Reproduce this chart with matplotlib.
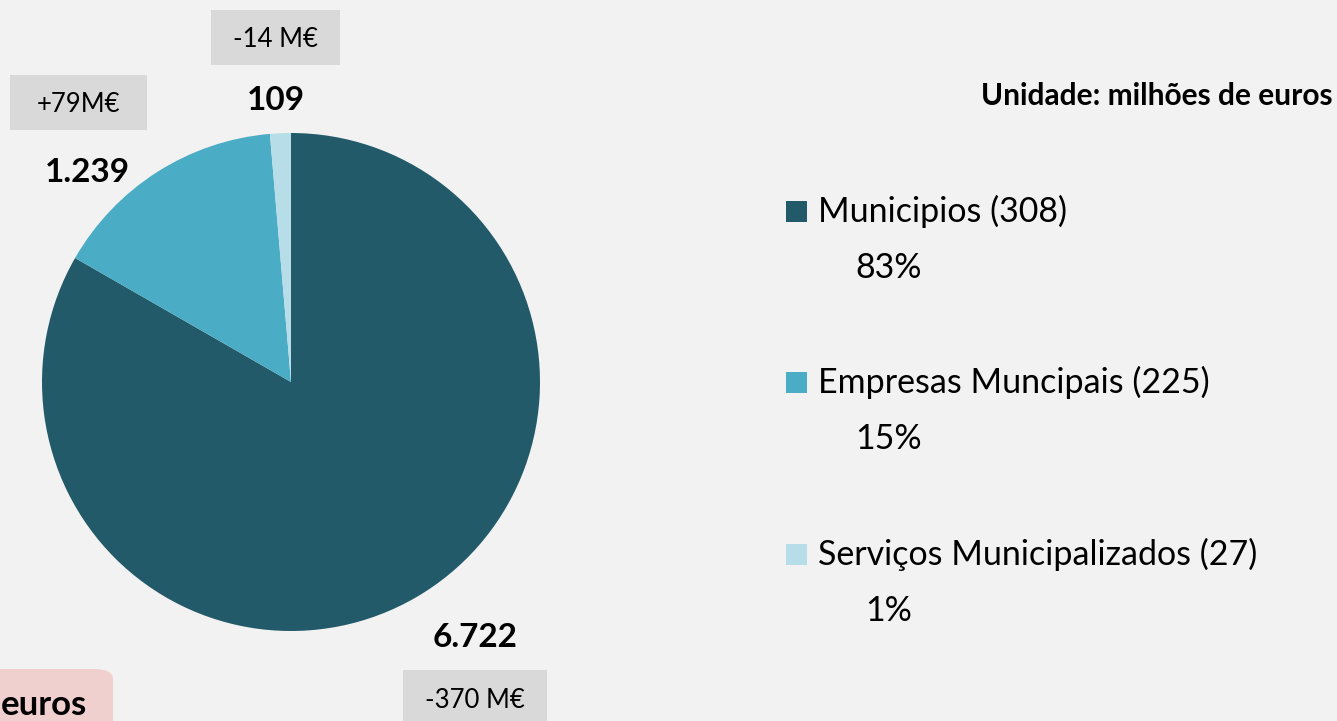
import matplotlib
matplotlib.use("Agg")
import matplotlib.pyplot as plt
from matplotlib.patches import Rectangle, FancyBboxPatch

plt.rcParams["font.family"] = ["Lato", "DejaVu Sans"]

# dados (milhões de euros)
categorias = ["Municipios", "Empresas Muncipais", "Serviços Municipalizados"]
num_entidades = [308, 225, 27]
valores = [6722, 1239, 109]
variacoes = ["-370 M€", "+79M€", "-14 M€"]
valores_txt = ["6.722", "1.239", "109"]
cores = ["#235A69", "#4BACC6", "#B7DEE8"]

W, H = 1337, 721
BG = "#F2F2F2"


def fx(px):
    return px / W


def fy(py):
    return 1 - py / H


fig = plt.figure(figsize=(W / 100, H / 100), dpi=100, facecolor=BG)

# pie
cx, cy, r = 291, 382, 249
ax = fig.add_axes([fx(cx - r), fy(cy + r), 2 * r / W, 2 * r / H])
ax.set_facecolor(BG)
ax.pie(valores, colors=cores, startangle=90, counterclock=False,
       wedgeprops=dict(linewidth=0))
ax.set_xlim(-1, 1)
ax.set_ylim(-1, 1)
ax.set_aspect("equal")
ax.axis("off")

# rótulos de valor (baseline) e caixas de variação
pos_valor = [(475, 647), (87, 182), (276, 110)]
pos_caixa = [(403, 670, 144, 60), (10, 75, 137, 55), (211, 10, 129, 55)]
base_var = [708, 112, 47]
for i in range(len(valores)):
    x, y = pos_valor[i]
    fig.text(fx(x), fy(y), valores_txt[i], ha="center", va="baseline",
             fontsize=24, fontweight="bold", color="black")
    bx, by, bw, bh = pos_caixa[i]
    fig.patches.append(Rectangle((fx(bx), fy(by + bh)), bw / W, bh / H,
                                 transform=fig.transFigure, facecolor="#D9D9D9",
                                 edgecolor="none", zorder=1))
    fig.text(fx(bx + bw / 2), fy(base_var[i]), variacoes[i], ha="center",
             va="baseline", fontsize=18.5, color="black", zorder=2)

# caixa rosa (cortada) em baixo à esquerda
fig.patches.append(FancyBboxPatch((fx(-40), fy(760)), 153 / W, 91 / H,
                                  boxstyle="round,pad=0,rounding_size=0.014",
                                  transform=fig.transFigure, facecolor="#F0D0CF",
                                  edgecolor="none", zorder=1))
fig.text(fx(87), fy(715), "euros", ha="right", va="baseline", fontsize=25,
         fontweight="bold", color="black", zorder=2)

# unidade
fig.text(fx(1333), fy(105), "Unidade: milhões de euros", ha="right",
         va="baseline", fontsize=21.5, fontweight="bold", color="black")

# legenda
total = sum(valores)
leg_base = [222, 393, 565]
for i, cat in enumerate(categorias):
    y = leg_base[i]
    fig.patches.append(Rectangle((fx(786), fy(y)), 21 / W, 21 / H,
                                 transform=fig.transFigure, facecolor=cores[i],
                                 edgecolor="none"))
    fig.text(fx(818), fy(y), f"{cat} ({num_entidades[i]})", ha="left",
             va="baseline", fontsize=24.5, color="black")
    pct = round(valores[i] / total * 100)
    fig.text(fx(889), fy(y + 56), f"{pct}%", ha="center", va="baseline",
             fontsize=24.5, color="black")

fig.savefig("out.png", dpi=100, facecolor=BG)
